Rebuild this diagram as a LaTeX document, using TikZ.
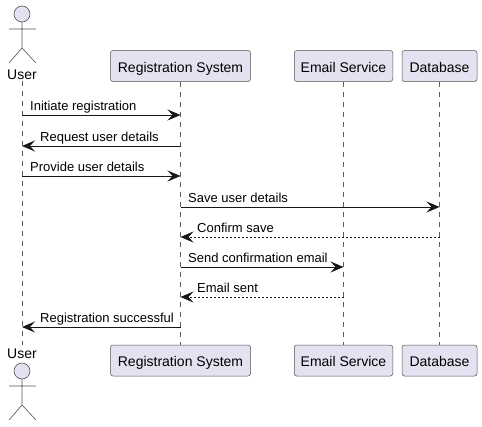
\documentclass[tikz,border=0pt]{standalone}
\usepackage{fontspec}
\setmainfont{Liberation Sans}
\usetikzlibrary{arrows.meta}
\definecolor{partfill}{HTML}{E2E2F0}
\definecolor{partline}{HTML}{181818}
\tikzset{
  partbox/.style={draw=partline!75,fill=partfill,rounded corners=2.5,line width=0.5pt,minimum height=31,inner sep=0pt,text height=14,text depth=2,font=\fontsize{14}{15}\selectfont},
  actorlabel/.style={inner sep=0pt,font=\fontsize{14}{15}\selectfont},
  lifeline/.style={draw=partline!70,line width=0.5pt,dash pattern=on 5pt off 5pt},
  msg/.style={draw=partline,line width=0.9pt,-{Stealth[length=13pt,width=11pt,inset=5pt]}},
  reply/.style={msg,line width=0.7pt,dash pattern=on 2pt off 2pt},
  msglabel/.style={anchor=base west,inner sep=0pt,font=\fontsize{13}{15}\selectfont},
  actorline/.style={draw=partline!75,line width=0.6pt},
}
\begin{document}
\begin{tikzpicture}[x=1pt,y=-1pt]
  \useasboundingbox (0,0) rectangle (482,426);
  % participants
  \foreach \nm/\x/\bw/\txt in {reg/180.5/140/Registration System,mail/343.5/98.5/Email Service,db/439.5/75/Database} {
    \node[partbox,minimum width=\bw] (\nm top) at (\x,66) {\txt};
    \node[partbox,minimum width=\bw] (\nm bot) at (\x,360.5) {\txt};
  }
  \node[actorlabel,minimum height=12] (usertop) at (22,75) {User};
  \node[actorlabel,minimum height=18] (userbot) at (22,354) {User};
  % lifelines
  \foreach \nm in {user,reg,mail,db}
    \draw[lifeline] (\nm top) -- (\nm bot);
  % actors
  \draw[actorline,fill=partfill] (22,14) circle (8);
  \draw[actorline] (22,22) -- (22,48) (9,29) -- (36,29) (9,63) -- (22,48) -- (36,63);
  \draw[actorline,fill=partfill] (22,371) circle (8);
  \draw[actorline] (22,379) -- (22,405) (9,386) -- (36,386) (9,420) -- (22,405) -- (36,420);
  % messages
  \foreach \i/\a/\b/\y/\lx/\txt in {1/user/reg/115/30/Initiate registration,2/reg/user/146/40/Request user details,3/user/reg/176/30/Provide user details,4/reg/db/207/188/Save user details,5/reg/mail/267/188/Send confirmation email,6/reg/user/327/40/Registration successful} {
    \coordinate (from\i) at (\a top |- 0,\y);
    \coordinate (to\i) at (\b top |- 0,\y);
    \draw[msg] (from\i) -- (to\i);
    \node[msglabel] (lab\i) at (\lx,\y-5) {\txt};
  }
  \foreach \i/\a/\b/\y/\lx/\txt in {7/db/reg/237/197/Confirm save,8/mail/reg/297/197/Email sent} {
    \coordinate (from\i) at (\a top |- 0,\y);
    \coordinate (to\i) at (\b top |- 0,\y);
    \draw[reply] (from\i) -- (to\i);
    \node[msglabel] (lab\i) at (\lx,\y-5) {\txt};
  }
\end{tikzpicture}
\end{document}
